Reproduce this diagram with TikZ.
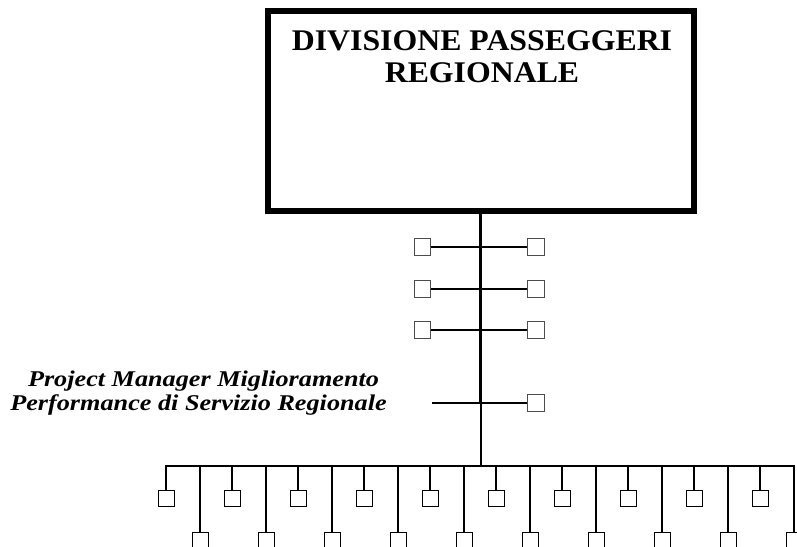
\documentclass[tikz,border=0pt]{standalone}
\usepackage{fontspec}
\newfontfamily\titlefont[FakeStretch=1.06]{Liberation Serif}
\newfontfamily\pmfont[FakeStretch=1.165]{Liberation Serif}
\tikzset{
  topbox/.style={draw=black!70, line width=1pt, minimum size=16.5pt, inner sep=0pt, fill=white},
  botbox/.style={draw=black, line width=1pt, minimum size=16pt, inner sep=0pt, fill=white},
  branch/.style={line width=2pt},
  trunk/.style={line width=3.2pt},
  thin/.style={line width=2pt},
  ttl/.style={font=\titlefont\fontsize{30}{32}\selectfont\bfseries, anchor=base, inner sep=0pt},
  pm/.style={font=\pmfont\fontsize{22.5}{24}\selectfont\bfseries\itshape, anchor=base, inner sep=0pt}
}
\begin{document}
\begin{tikzpicture}[x=1pt,y=-1pt]
\useasboundingbox (0,0) rectangle (797,546);
\clip (0,0) rectangle (797,546);
% main box
\node[draw, line width=6pt, minimum width=426pt, minimum height=200pt, inner sep=0pt] (div) at (481,111) {};
\node[ttl] (t1) at (482,50) {DIVISIONE PASSEGGERI};
\node[ttl] (t2) at (482,82) {REGIONALE};
% staff rows
\foreach \y [count=\k] in {247,289,330}{
  \node[topbox] (L\k) at (422.3,\y) {};
  \node[topbox] (R\k) at (536,\y) {};
  \draw[branch] (L\k.east) -- (R\k.west);
}
\node[topbox] (R4) at (536,403) {};
\coordinate (pmL) at (432,403);
\coordinate (pmJ) at (480.5,403);
\coordinate (pmJ2) at (481,403);
\draw[branch] (pmL) -- (R4.west);
\node[pm] (p1) at (203.5,386) {Project Manager Miglioramento};
\node[pm] (p2) at (198.5,410) {Performance di Servizio Regionale};
% trunk
\coordinate (top) at (480.5,213);
\coordinate (busJ) at (481,466);
\draw[trunk] (top) -- (pmJ);
\draw[thin] (pmJ2) -- (busJ);
% bus
\coordinate (busL) at (166,466);
\coordinate (busR) at (794,466);
\draw[thin, line cap=rect] (busL) -- (busR);
\foreach \i in {0,...,9}{
  \pgfmathsetmacro{\xu}{166+66*\i}
  \pgfmathsetmacro{\xd}{200+66*\i}
  \coordinate (bu\i) at (\xu,466);
  \coordinate (bd\i) at (\xd,466);
  \node[botbox] (u\i) at (\xu,498.7) {};
  \node[botbox] (d\i) at (\xd,540) {};
  \draw[thin] (bu\i) -- (u\i.north);
  \draw[thin] (bd\i) -- (d\i.north);
}
\end{tikzpicture}
\end{document}
